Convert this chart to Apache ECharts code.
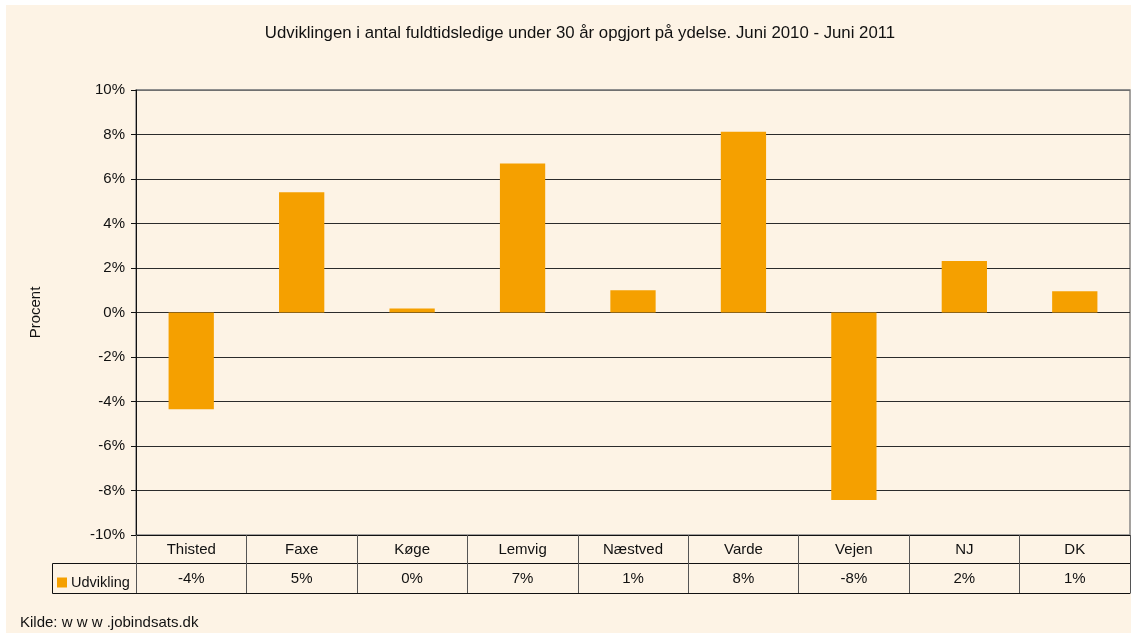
<!DOCTYPE html>
<html>
<head>
<meta charset="utf-8">
<script src="https://cdn.jsdelivr.net/npm/echarts@6/dist/echarts.min.js"></script>
<style>
  html, body { margin: 0; padding: 0; background: #fff; }
  #paper { position: absolute; left: 6px; top: 5px; width: 1125px; height: 628px; background: #fdf3e5; }
  #main { position: absolute; left: 0; top: 0; width: 1133px; height: 635px; }
</style>
</head>
<body>
<div id="paper"></div>
<div id="main"></div>
<script>
var categories = ['Thisted', 'Faxe', 'Køge', 'Lemvig', 'Næstved', 'Varde', 'Vejen', 'NJ', 'DK']
var udvikling = [-4.35, 5.4, 0.18, 6.7, 1.0, 8.12, -8.43, 2.32, 0.95]
var seriesName = 'Udvikling'

var font = 'Liberation Sans, Arial, sans-serif'
var chart = echarts.init(document.getElementById('main'))

chart.setOption({
  animation: false,
  title: {
    text: 'Udviklingen i antal fuldtidsledige under 30 år opgjort på ydelse. Juni 2010 - Juni 2011',
    left: 575,
    textAlign: 'center',
    top: 20,
    textStyle: { fontFamily: font, fontSize: 16.8, fontWeight: 'normal', color: '#111' }
  },
  legend: {
    data: [seriesName],
    left: 52,
    top: 570,
    icon: 'rect',
    itemWidth: 10,
    itemHeight: 10,
    itemGap: 4,
    textStyle: { fontFamily: font, fontSize: 14.5, color: '#111', padding: [0, 0, 0, -1] }
  },
  grid: {
    left: 136,
    right: 3,
    top: 90,
    bottom: 100,
    show: true,
    borderColor: '#888',
    borderWidth: 1.5
  },
  xAxis: [
    {
      type: 'category',
      data: categories,
      position: 'bottom',
      axisLine: { onZero: false, lineStyle: { color: '#111', width: 1 } },
      axisTick: { show: true, alignWithLabel: false, length: 58, lineStyle: { color: '#555' } },
      axisLabel: { fontFamily: font, fontSize: 15, color: '#111', margin: 7 }
    },
    {
      type: 'category',
      data: categories.map(function (c, i) { return Math.round(udvikling[i]) + '%' }),
      position: 'bottom',
      offset: 28,
      axisLine: { onZero: false, lineStyle: { color: '#111', width: 1 } },
      axisTick: { show: false },
      axisLabel: { fontFamily: font, fontSize: 15, color: '#111', margin: 8 }
    },
    {
      type: 'category',
      data: categories,
      position: 'bottom',
      offset: 58,
      axisLine: { onZero: false, lineStyle: { color: '#111', width: 1 } },
      axisTick: { show: false },
      axisLabel: { show: false }
    }
  ],
  yAxis: {
    type: 'value',
    min: -10,
    max: 10,
    interval: 2,
    name: 'Procent',
    nameLocation: 'middle',
    nameGap: 93,
    nameTextStyle: { fontFamily: font, fontSize: 15, color: '#111' },
    axisLine: { show: true, lineStyle: { color: '#111' } },
    axisTick: { show: true, length: 5, lineStyle: { color: '#111' } },
    axisLabel: { formatter: '{value}%', fontFamily: font, fontSize: 15, color: '#111', margin: 11 },
    splitLine: { show: true, lineStyle: { color: '#2b2b2b', width: 1 } }
  },
  graphic: [
    {
      type: 'line',
      z: 100,
      shape: { x1: 137, y1: 90, x2: 1130, y2: 90 },
      style: { stroke: '#888', lineWidth: 1.5 },
      silent: true
    },
    {
      type: 'rect',
      shape: { x: 52.5, y: 563.5, width: 84, height: 30 },
      style: { fill: 'none', stroke: '#111', lineWidth: 1 },
      silent: true
    },
    {
      type: 'line',
      shape: { x1: 136.5, y1: 535, x2: 136.5, y2: 594 },
      style: { stroke: '#111', lineWidth: 1 },
      silent: true
    },
    {
      type: 'text',
      left: 20,
      top: 615,
      style: { text: 'Kilde: w w w .jobindsats.dk', fontFamily: font, fontSize: 15, fill: '#111' }
    }
  ],
  series: [
    {
      name: seriesName,
      type: 'bar',
      data: udvikling,
      barWidth: '41%',
      itemStyle: { color: '#f5a000' }
    }
  ]
})
</script>
</body>
</html>
